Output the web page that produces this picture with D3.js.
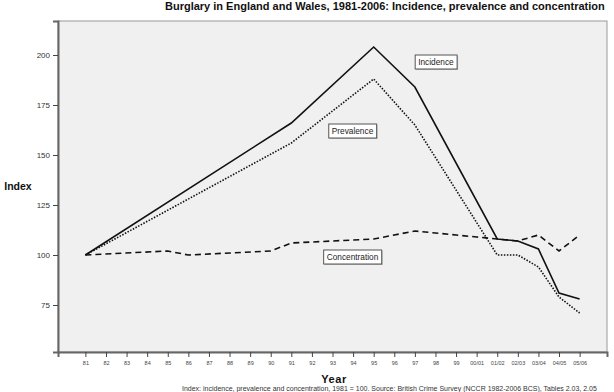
<!DOCTYPE html>
<html>
<head>
<meta charset="utf-8">
<script src="https://cdn.jsdelivr.net/npm/d3@7/dist/d3.min.js"></script>
<style>
  html, body { margin: 0; padding: 0; background: #fff; }
  svg { display: block; font-family: "Liberation Sans", Arial, sans-serif; }
</style>
</head>
<body>
<svg id="chart" width="614" height="392"></svg>
<script>
const years = ["81","82","83","84","85","86","87","88","89","90","91","92","93","94","95","96","97","98","99","00/01","01/02","02/03","03/04","04/05","05/06"];
const incidence =     [100,null,null,null,null,null,null,null,null,null,166,null,null,null,204,null,184,null,null,null,108,107,103,81,78];
const prevalence =    [100,null,null,null,null,null,null,null,null,null,156,null,null,null,188,null,165,null,null,null,100,100,94,79,71];
const concentration = [100,null,null,null,102,100,null,null,null,102,106,null,null,null,108,null,112,null,110,109,108,107,110,102,110];
const yTicks = [75,100,125,150,175,200];
const seriesLabels = ["Incidence","Prevalence","Concentration"];
const titleText = "Burglary in England and Wales, 1981-2006: Incidence, prevalence and concentration";
const footText = "Index: incidence, prevalence and concentration, 1981 = 100. Source: British Crime Survey (NCCR 1982-2006 BCS), Tables 2.03, 2.05";

const svg = d3.select("#chart");
const L = 58, R = 607, T = 21, B = 352;

const x = d3.scalePoint().domain(years).range([L, R]).padding(1.33);
const y = d3.scaleLinear().domain([51.5, 217]).range([B, T]);

// title
svg.append("text").attr("x", 165).attr("y", 9.5)
  .attr("font-size", 11).attr("font-weight", "bold").attr("fill", "#111")
  .text(titleText);

// plot background
svg.append("rect").attr("x", L).attr("y", T).attr("width", R - L).attr("height", B - T)
  .attr("fill", "#f0f0f0").attr("stroke", "#9a9a9a").attr("stroke-width", 1);

// axes
const yAxis = d3.axisLeft(y).tickValues(yTicks).tickSize(5).tickPadding(3);
const gy = svg.append("g").attr("transform", `translate(${L},0)`).call(yAxis);
gy.select(".domain").attr("stroke", "#666").attr("stroke-width", 2);
gy.selectAll(".tick line").attr("stroke", "#444");
gy.selectAll(".tick text").attr("font-size", 8).attr("fill", "#333").attr("font-family", "Liberation Sans, Arial, sans-serif");

const xAxis = d3.axisBottom(x).tickSize(5).tickPadding(4);
const gx = svg.append("g").attr("transform", `translate(0,${B})`).call(xAxis);
gx.select(".domain").attr("stroke", "#666").attr("stroke-width", 2);
gx.selectAll(".tick line").attr("stroke", "#444");
gx.selectAll(".tick text").attr("font-size", 5.5).attr("fill", "#444").attr("font-family", "Liberation Sans, Arial, sans-serif");

// axis titles
svg.append("text").attr("x", 18).attr("y", 190).attr("text-anchor", "middle")
  .attr("font-size", 10.5).attr("font-weight", "bold").attr("fill", "#111").text("Index");
svg.append("text").attr("x", 334).attr("y", 383).attr("text-anchor", "middle")
  .attr("font-size", 11).attr("font-weight", "bold").attr("fill", "#111").attr("letter-spacing", 0.6).text("Year");

// footnote
svg.append("text").attr("x", 182).attr("y", 391)
  .attr("font-size", 7).attr("fill", "#333").text(footText);

// lines
const line = d3.line().x(d => x(d.k)).y(d => y(d.v));
function pts(arr) { return years.map((k, i) => ({k, v: arr[i]})).filter(d => d.v != null); }
const series = [
  {data: incidence, dash: null, w: 1.6},
  {data: prevalence, dash: "1.5,1.5", w: 1.6},
  {data: concentration, dash: "6,4", w: 1.6}
];
series.forEach(s => {
  svg.append("path").datum(pts(s.data)).attr("d", line)
    .attr("fill", "none").attr("stroke", "#111").attr("stroke-width", s.w)
    .attr("stroke-dasharray", s.dash).attr("stroke-linejoin", "miter");
});

// labels in boxes (positioned near the lines)
const labelPos = [
  {cx: x("98") + 0.5, cy: y(200) + 7},
  {cx: x("93") + 20, cy: y(162)},
  {cx: x("93") + 20, cy: y(100) + 2}
];
seriesLabels.forEach((t, i) => {
  const g = svg.append("g");
  const txt = g.append("text").attr("x", labelPos[i].cx).attr("y", labelPos[i].cy + 3)
    .attr("text-anchor", "middle").attr("font-size", 8.3).attr("fill", "#222").text(t);
  const bb = txt.node().getBBox();
  g.insert("rect", "text").attr("x", bb.x - 3 + 1).attr("y", bb.y - 2 + 1)
    .attr("width", bb.width + 6).attr("height", bb.height + 4).attr("fill", "#bbb");
  g.insert("rect", "text").attr("x", bb.x - 3).attr("y", bb.y - 2)
    .attr("width", bb.width + 6).attr("height", bb.height + 4)
    .attr("fill", "#fff").attr("stroke", "#555").attr("stroke-width", 1);
});
</script>
</body>
</html>
